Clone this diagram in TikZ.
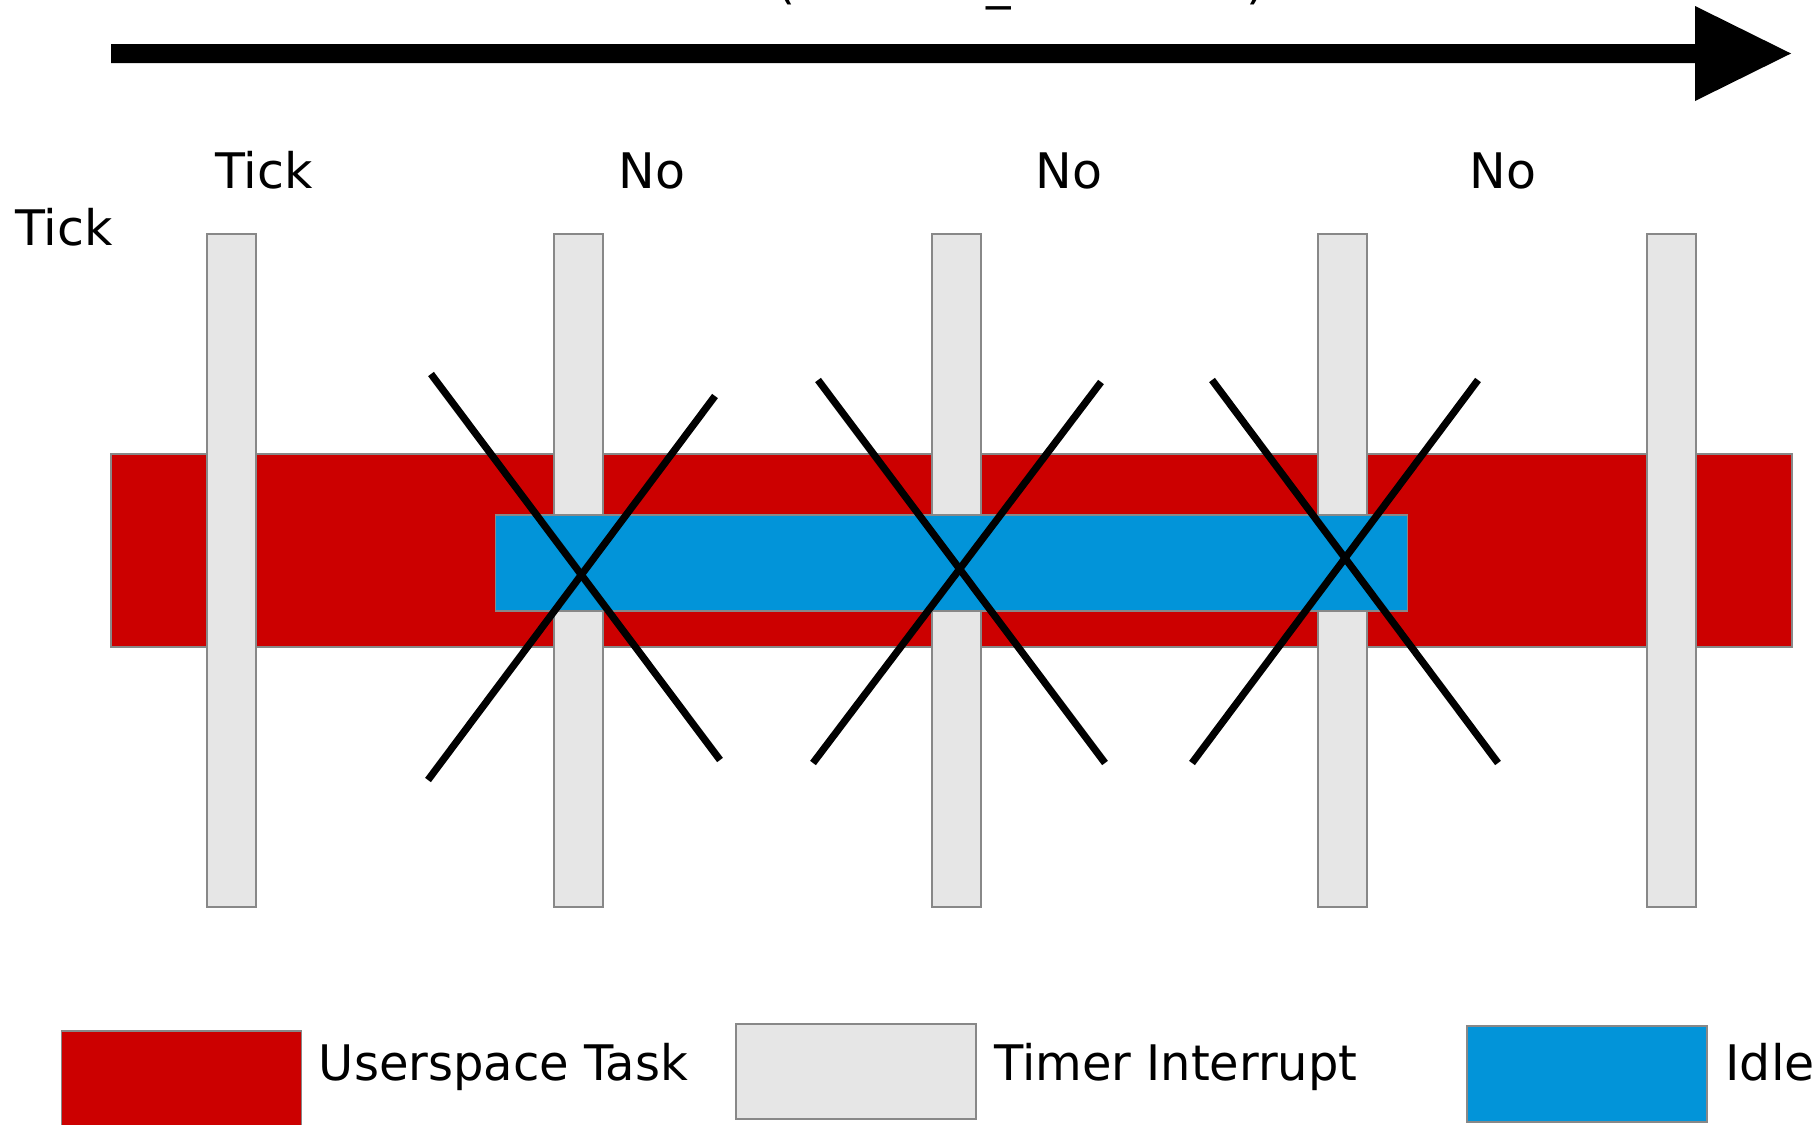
\documentclass[tikz,border=0pt]{standalone}
\usepackage{fontspec}
\setmainfont{DejaVu Sans}
\usepackage{graphicx}
\definecolor{taskred}{RGB}{204,0,0}
\definecolor{timergray}{RGB}{230,230,230}
\definecolor{idleblue}{RGB}{2,148,217}
\definecolor{edgegray}{RGB}{136,136,136}
\begin{document}
\begin{tikzpicture}[x=0.5pt,y=-0.5pt,
  outline/.style={draw=edgegray,line width=0.9pt},
  task/.style={outline,fill=taskred},
  timer/.style={outline,fill=timergray},
  idle/.style={outline,fill=idleblue},
  cross/.style={line width=3.6pt,black},
  lbl/.style={anchor=base west,inner sep=0pt,font=\fontsize{24.5}{29}\selectfont}]
\clip (0,0) rectangle (1818,1124);
\fill[white] (0,0) rectangle (1818,1124);

% time axis
\fill (111,44) -- (1695,44) -- (1695,6) -- (1791,53.5) -- (1695,101) -- (1695,63) -- (111,63) -- cycle;
\node[lbl] (axis) at (641,-2) {Time (CONFIG\_HZ=1000)};

% userspace task running across the whole span
\draw[task] (111,454) rectangle (1792,647);

% periodic timer interrupts
\foreach \x/\n in {207/1,554/2,932/3,1318/4,1647/5}
  \draw[timer] (\x,234) rectangle ++(49,673) coordinate (bar\n);

% idle period
\draw[idle] (495.5,515) rectangle (1407.5,611);

% suppressed ticks
\coordinate (a1) at (431,374);  \coordinate (a2) at (720,760);
\coordinate (a3) at (715,396);  \coordinate (a4) at (428,780);
\coordinate (b1) at (818,380);  \coordinate (b2) at (1105,763);
\coordinate (b3) at (1101,382); \coordinate (b4) at (813,763);
\coordinate (c1) at (1212,380); \coordinate (c2) at (1498,763);
\coordinate (c3) at (1478,380); \coordinate (c4) at (1192,763);
\draw[cross] (a1) -- (a2);
\draw[cross] (a3) -- (a4);
\draw[cross] (b1) -- (b2);
\draw[cross] (b3) -- (b4);
\draw[cross] (c1) -- (c2);
\draw[cross] (c3) -- (c4);

% tick labels
\node[lbl] (t1) at (215,188) {Tick};
\node[lbl] (n1) at (618,188) {No};
\node[lbl] (n2) at (1035,188) {No};
\node[lbl] (n3) at (1469,188) {No};
\node[lbl] (t2) at (15,245) {Tick};

% legend
\draw[task] (61.5,1031) rectangle (301.5,1140);
\node[lbl] (lg1) at (318.5,1080) {\scalebox{0.98}[1]{Userspace Task}};
\draw[timer] (736,1024) rectangle (976,1119);
\node[lbl] (lg2) at (994,1080) {\scalebox{0.978}[1]{Timer Interrupt}};
\draw[idle] (1467,1026) rectangle (1707,1122);
\node[lbl] (lg3) at (1725,1080) {Idle};
\end{tikzpicture}
\end{document}
